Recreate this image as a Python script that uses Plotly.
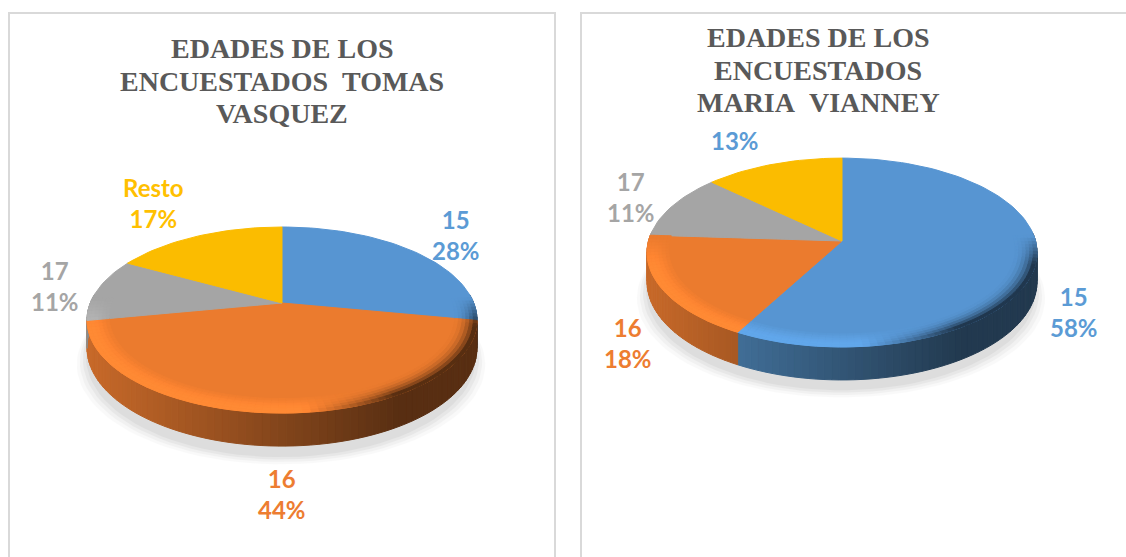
import numpy as np
import plotly.graph_objects as go

# ---- data ----
left_title = ["EDADES DE LOS", "ENCUESTADOS\u00a0\u00a0TOMAS", "VASQUEZ"]
left_categories = ["15", "16", "17", "Resto"]
left_values = [28, 44, 11, 17]

right_title = ["EDADES DE LOS", "ENCUESTADOS", "MARIA\u00a0\u00a0VIANNEY"]
right_categories = ["15", "16", "17", ""]
right_values = [58, 18, 11, 13]

# ---- styles ----
slice_colors = ["#5B9BD5", "#ED7D31", "#A5A5A5", "#FFC000"]
slice_colors_top = ["#5795D2", "#EB7B2E", "#A5A5A5", "#FBBC00"]
left_label_colors = ["#5B9BD5", "#ED7D31", "#A5A5A5", "#FFC000"]
right_label_colors = ["#5B9BD5", "#ED7D31", "#A5A5A5", "#5B9BD5"]
title_color = "#595959"
W, H = 1126, 557

# pixel-space layout of the two 3-D discs
left_geo = dict(cx=282, cy=303, rx=191.7, ry=89.9, k=0.183, depth=27)
right_geo = dict(cx=842, cy=241, rx=193.5, ry=93, k=0.122, depth=29)
left_label_pos = [(456, 235), (282, 494), (55, 286), (153, 203)]
right_label_pos = [(1074, 312), (628, 343), (631, 197), (735, 140)]
left_title_pos = [(282, 48), (282, 81), (282, 113)]
right_title_pos = [(818, 37), (818, 70), (818, 102)]

fig = go.Figure()


def hexrgb(c):
    return np.array([int(c[i:i + 2], 16) for i in (1, 3, 5)], float)


def rgb(a):
    a = np.clip(a, 0, 255)
    return "rgb(%d,%d,%d)" % tuple(int(round(v)) for v in a)


def project(g, r, ang, drop=0.0):
    """ang is clockwise from 12 o'clock, r in unit disc."""
    X, Y = r * np.sin(ang), r * np.cos(ang)
    w = 1 + g["k"] * Y
    return g["cx"] + g["rx"] * X / w, g["cy"] - g["ry"] * Y / w + drop / w


def poly(xs, ys, color, opacity=1.0, line=True):
    fig.add_trace(go.Scatter(
        x=list(xs), y=list(ys), mode="lines", fill="toself", fillcolor=color,
        line=dict(color=color if line else "rgba(0,0,0,0)", width=1.0),
        opacity=opacity, hoverinfo="skip", showlegend=False))


def side_factor(g, sx):
    t = (sx - (g["cx"] - g["rx"])) / (2 * g["rx"])
    return max(0.37, 0.84 - 0.58 * t), t


def draw_pie(g, values):
    total = sum(values)
    # soft shadow under the disc
    for grow, op in [(9, 0.04), (6, 0.06), (3, 0.08), (0, 0.09)]:
        a = np.linspace(0, 2 * np.pi, 120)
        xs, ys = project(g, 1.0, a, g["depth"] + 9)
        cx_s = g["cx"]
        xs = cx_s + (xs - cx_s) * (1 + grow / g["rx"]) - 1
        ys = ys + grow * 0.8
        poly(xs, ys, "#808080", op, line=False)

    edges = np.cumsum([0] + list(values)) / total * 2 * np.pi
    wedges = []
    for i in range(len(values)):
        n = max(3, int((edges[i + 1] - edges[i]) / np.radians(2)))
        wedges.append(np.linspace(edges[i], edges[i + 1], n + 1))

    # side wall
    for i, arc in enumerate(wedges):
        base = hexrgb(slice_colors[i])
        for a1, a2 in zip(arc[:-1], arc[1:]):
            am = (a1 + a2) / 2
            if np.cos(am) > 0.1:
                continue
            x1, y1 = project(g, 1, a1)
            x2, y2 = project(g, 1, a2)
            x3, y3 = project(g, 1, a2, g["depth"])
            x4, y4 = project(g, 1, a1, g["depth"])
            f, _ = side_factor(g, (x1 + x2) / 2)
            poly([x1, x2, x3, x4, x1], [y1, y2, y3, y4, y1], rgb(base * f))

    # flat top surface
    for i, arc in enumerate(wedges):
        xs, ys = project(g, 1, arc)
        xs = np.r_[g["cx"], xs, g["cx"]]
        ys = np.r_[g["cy"], ys, g["cy"]]
        poly(xs, ys, slice_colors_top[i])

    # bevelled rim along the front edge
    radii = np.linspace(0.89, 1.0, 7)
    for i, arc in enumerate(wedges):
        base = hexrgb(slice_colors_top[i])
        for a1, a2 in zip(arc[:-1], arc[1:]):
            am = (a1 + a2) / 2
            front = np.clip((0.05 - np.cos(am)) / 0.3, 0, 1)
            if front <= 0:
                continue
            sx, _ = project(g, 1, am)
            f, t = side_factor(g, sx)
            light = base * 1.12
            dark = base * f
            mix = np.clip((t - 0.55) / 0.25, 0, 1)
            for j, (r1, r2) in enumerate(zip(radii[:-1], radii[1:])):
                s = (j + 1) / (len(radii) - 1)
                light_col = base + (light - base) * min(1, s * 1.3)
                dark_col = base + (dark - base) * s ** 2.2
                target = light_col * (1 - mix) + dark_col * mix
                col = base + (target - base) * front
                xa, ya = project(g, r1, a1)
                xb, yb = project(g, r2, a1)
                xc, yc = project(g, r2, a2)
                xd, yd = project(g, r1, a2)
                poly([xa, xb, xc, xd, xa], [ya, yb, yc, yd, ya], rgb(col))


draw_pie(left_geo, left_values)
draw_pie(right_geo, right_values)

annotations = []
for lines, positions in [(left_title, left_title_pos), (right_title, right_title_pos)]:
    for line, (x, y) in zip(lines, positions):
        annotations.append(dict(
            x=x, y=y, xref="x", yref="y", text=f"<b>{line}</b>", showarrow=False,
            font=dict(family="Liberation Serif", size=28, color=title_color),
            align="center", xanchor="center", yanchor="middle"))

for cats, vals, cols, pos in [
    (left_categories, left_values, left_label_colors, left_label_pos),
    (right_categories, right_values, right_label_colors, right_label_pos),
]:
    for c, v, col, (x, y) in zip(cats, vals, cols, pos):
        txt = f"<b>{c}</b><br><b>{v}%</b>" if c else f"<b>{v}%</b>"
        annotations.append(dict(
            x=x, y=y, xref="x", yref="y", text=txt, showarrow=False,
            font=dict(family="Lato", size=24, color=col),
            align="center", xanchor="center", yanchor="middle"))

border = dict(color="#D9D9D9", width=2)
shapes = [
    dict(type="rect", xref="x", yref="y", x0=9, x1=555, y0=13, y1=570, line=border, layer="below"),
    dict(type="rect", xref="x", yref="y", x0=581, x1=1140, y0=13, y1=570, line=border, layer="below"),
]

fig.update_layout(
    width=W, height=H, margin=dict(l=0, r=0, t=0, b=0),
    paper_bgcolor="white", plot_bgcolor="white", showlegend=False,
    xaxis=dict(range=[0, W], visible=False, fixedrange=True),
    yaxis=dict(range=[H, 0], visible=False, fixedrange=True),
    annotations=annotations, shapes=shapes,
)
fig.write_html("out.html", config={"displayModeBar": False},
               post_script="document.body.style.margin='0';document.body.style.overflow='hidden';")
